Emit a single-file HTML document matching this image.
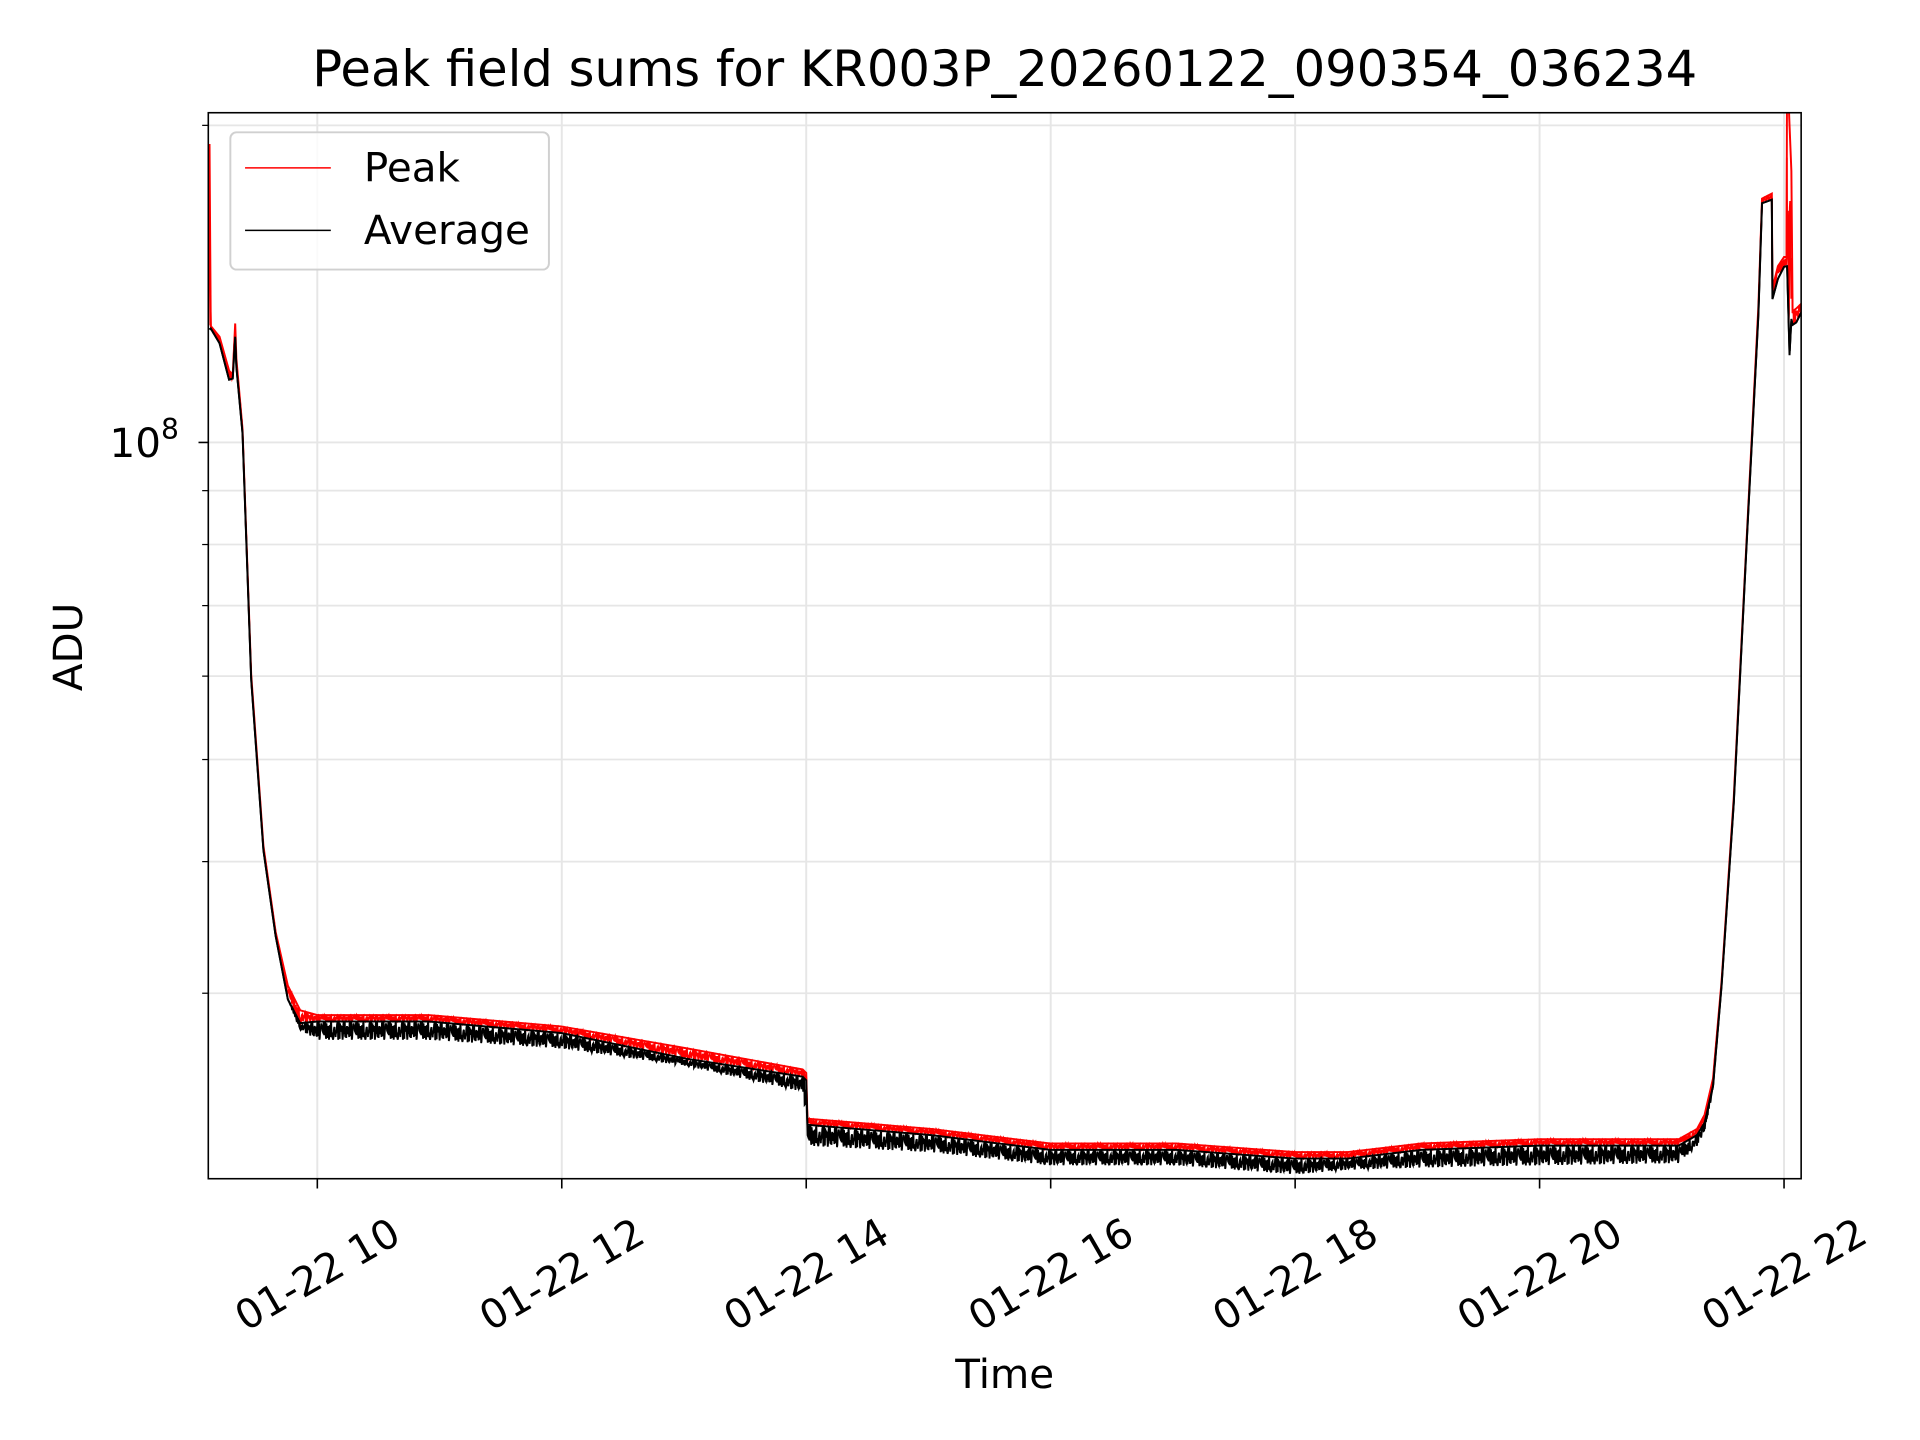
<!DOCTYPE html>
<html><head><meta charset="utf-8"><style>
html,body{margin:0;padding:0;background:#fff;}
svg{display:block;font-family:"DejaVu Sans","Liberation Sans",sans-serif;}
</style></head><body>
<svg id="chart" width="1920" height="1440" viewBox="0 0 1567 1175.25" xmlns="http://www.w3.org/2000/svg">
<rect width="1567" height="1175.25" fill="#fff"/>
<g id="grid"></g>
<g id="series" clip-path="url(#clip)"></g>
<defs><clipPath id="clip"><rect x="170" y="92" width="1300" height="870"/></clipPath></defs>
<rect x="170" y="92" width="1300" height="870" fill="none" stroke="#000" stroke-width="1.3"/>
<g id="ticks"></g>
<text x="820" y="70" font-size="40.5" text-anchor="middle">Peak field sums for KR003P_20260122_090354_036234</text>
<text x="820" y="1133" font-size="33" text-anchor="middle">Time</text>
<text x="67" y="528" font-size="33" text-anchor="middle" transform="rotate(-90 67 528)">ADU</text>
<g>
<rect x="188" y="108" width="260" height="112" rx="5" fill="#fff" fill-opacity="0.8" stroke="#d0d0d0" stroke-width="1.6"/>
<line x1="200" y1="137" x2="270" y2="137" stroke="#f00" stroke-width="1.2"/>
<text x="297" y="148" font-size="33">Peak</text>
<line x1="200" y1="188" x2="270" y2="188" stroke="#000" stroke-width="1.2"/>
<text x="297" y="199" font-size="33">Average</text>
</g>
</svg>
<script>
// time in hours of 2026-01-22
const hours   = [9.118,9.128,9.20,9.278,9.308,9.328,9.338,9.388,9.459,9.559,9.659,9.759,9.860,10.0,10.912,11.995,13.018,13.970,14.0,14.01,15.023,15.995,17.028,18.0,18.431,19.033,19.995,21.138,21.288,21.35,21.419,21.489,21.589,21.689,21.790,21.820,21.900,21.905,21.95,22.0,22.02,22.025,22.045,22.06,22.07,22.10,22.14];
// values in millions of ADU
const peakVals= [192,129,126,117,116,129.7,120,103,60.2,41.4,34.3,30.5,28.9,28.6,28.6,27.9,26.6,25.4,25.2,22.8,22.3,21.6,21.6,21.2,21.2,21.6,21.8,21.8,22.3,23.0,24.9,30.8,46.1,78.8,134.6,170.4,172.3,140,147,150,150,230,200,181,133.2,134,135.4];
const avgHigh = [128,128.3,124.2,114.7,115,126,117.8,102,59.5,41,34,29.6,28.1,28.2,28.2,27.5,26.0,25.0,24.8,22.5,22.0,21.3,21.3,20.9,20.9,21.3,21.5,21.5,22.0,22.6,24.5,30.5,45.5,78,132,168.7,170,136.8,143,146.8,147,147,121,131,129.3,130,132.8];
const avgLow  = [128,128.3,124.2,114.7,115,126,117.8,102,59.5,41,34,29.6,27.7,27.1,27.1,26.6,25.6,24.2,23.0,21.5,21.2,20.6,20.6,20.2,20.4,20.5,20.6,20.7,21.5,22.2,24.3,30.5,45.5,78,132,168.7,170,136.8,143,146.8,147,147,121,131,129.3,130,132.8];
const xTickHours = [10,12,14,16,18,20,22];
const xTickLabels = ["01-22 10","01-22 12","01-22 14","01-22 16","01-22 18","01-22 20","01-22 22"];
const yMinorVals = [200,90,80,70,60,50,40,30];
const yMajorVals = [100];

const X0=170,X1=1470,Y0=92,Y1=962;
const xMin=9.108,xMax=22.14,yMin=20.0,yMax=205.6;
function xs(h){return X0+(h-xMin)/(xMax-xMin)*(X1-X0);}
function ys(v){return Y1-(Math.log10(v)-Math.log10(yMin))/(Math.log10(yMax)-Math.log10(yMin))*(Y1-Y0);}
const NS="http://www.w3.org/2000/svg";
function mk(tag,attrs,parent){const e=document.createElementNS(NS,tag);for(const k in attrs)e.setAttribute(k,attrs[k]);parent.appendChild(e);return e;}
const grid=document.getElementById('grid'),ticks=document.getElementById('ticks'),series=document.getElementById('series');

xTickHours.forEach((h,i)=>{
  const x=xs(h);
  const g=mk('line',{x1:x,x2:x,y1:Y0,y2:Y1,stroke:'#e6e6e6','stroke-width':1.6},grid);
  
  
  const t=mk('line',{x1:x,x2:x,y1:Y1,y2:Y1+8,stroke:'#000','stroke-width':1.3},ticks);
  
  
  const lx=x, ly=1040;
  const tx=mk('text',{x:lx,y:ly,'font-size':33,'text-anchor':'middle','dominant-baseline':'central',transform:`rotate(-30 ${lx} ${ly})`},ticks);
  tx.textContent=xTickLabels[i];
  
  
});
yMinorVals.forEach(v=>{
  const y=ys(v);
  const g=mk('line',{x1:X0,x2:X1,y1:y,y2:y,stroke:'#e6e6e6','stroke-width':1.4},grid);
  
  
  const t=mk('line',{x1:X0-5,x2:X0,y1:y,y2:y,stroke:'#000','stroke-width':1},ticks);
  
  
});
yMajorVals.forEach(v=>{
  const y=ys(v);
  const g=mk('line',{x1:X0,x2:X1,y1:y,y2:y,stroke:'#e6e6e6','stroke-width':1.6},grid);
  
  
  const t=mk('line',{x1:X0-8,x2:X0,y1:y,y2:y,stroke:'#000','stroke-width':1.3},ticks);
  
  
  const tx=mk('text',{x:X0-24,y:y+12,'font-size':33,'text-anchor':'end'},ticks);
  tx.innerHTML='10<tspan dy="-15" font-size="23">8</tspan>';
  
  
});

function interp(arr,h){
  for(let i=0;i<hours.length-1;i++){
    if(h>=hours[i]&&h<=hours[i+1]){
      const f=(h-hours[i])/((hours[i+1]-hours[i])||1);
      return Math.exp(Math.log(arr[i])+f*(Math.log(arr[i+1])-Math.log(arr[i])));
    }
  }
  return arr[arr.length-1];
}
// dense jagged stroke between hi and lo envelopes (rendering texture only)
const texture=[0,0.85,0.2,0.6,0.05,1,0.35,0.7,0.1,0.5,0.9,0.15,0.75,0.3,0.95,0.05,0.55,0.4,1,0.2,0.65,0.1,0.8,0.45,0.25,0.9,0.0,0.6,0.35,0.85,0.15,0.7,0.5];
function bandPath(hiArr,loArr){
  let d='';
  const step=0.3/(X1-X0)*(xMax-xMin);
  let k=0;
  for(let h=hours[0];h<=hours[hours.length-1];h+=step,k++){
    const hi=interp(hiArr,h),lo=interp(loArr,h);
    const pat=texture[(k*7+(k>>3))%texture.length];
    const v=Math.exp(Math.log(hi)+pat*(Math.log(lo)-Math.log(hi)));
    d+=(d?'L':'M')+xs(h).toFixed(2)+','+ys(v).toFixed(2);
  }
  return d;
}
function linePath(arr){return hours.map((h,i)=>(i?'L':'M')+xs(h).toFixed(2)+','+ys(arr[i]).toFixed(2)).join('');}

const redBand=mk('path',{d:bandPath(peakVals,avgHigh),fill:'none',stroke:'#f00','stroke-width':1.4},series);


const redLine=mk('path',{d:linePath(peakVals),fill:'none',stroke:'#f00','stroke-width':1.6},series);


const blkBand=mk('path',{d:bandPath(avgHigh,avgLow),fill:'none',stroke:'#000','stroke-width':1.5},series);


const blkLine=mk('path',{d:linePath(avgHigh),fill:'none',stroke:'#000','stroke-width':1.6},series);


</script>
</body></html>
